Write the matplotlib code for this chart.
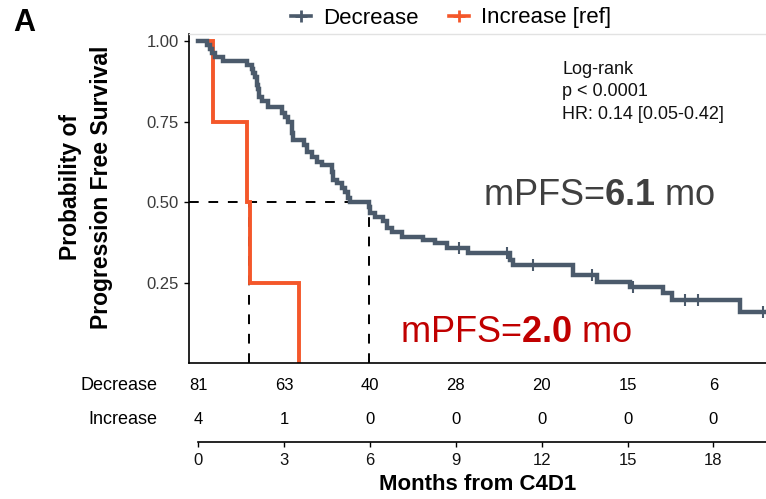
import matplotlib
matplotlib.use("Agg")
import matplotlib.pyplot as plt
from matplotlib.lines import Line2D
import numpy as np

plt.rcParams['font.family'] = ['Liberation Sans', 'DejaVu Sans']
plt.rcParams['mathtext.fontset'] = 'custom'
plt.rcParams['mathtext.rm'] = 'Liberation Sans'
plt.rcParams['mathtext.bf'] = 'Liberation Sans:bold'

# Kaplan-Meier steps (time in months, survival after the drop)
dec_t = [0, 0.29, 0.40, 0.47, 0.58, 0.86, 1.70, 1.87, 1.91, 1.98, 2.05, 2.08, 2.12,
         2.22, 2.43, 2.92, 3.02, 3.13, 3.27, 3.30, 3.69, 3.79, 3.97, 4.14, 4.32, 4.67,
         4.70, 4.84, 5.02, 5.12, 5.23, 5.30, 5.96, 6.00, 6.17, 6.45, 6.59, 6.77, 7.12,
         7.85, 8.27, 8.69, 9.42, 10.89, 11.00, 13.09, 13.93, 15.09, 16.24, 16.56,
         18.93, 19.80]
dec_s = [1.0, 0.988, 0.975, 0.963, 0.951, 0.938, 0.926, 0.914, 0.901, 0.889, 0.864,
         0.852, 0.827, 0.815, 0.796, 0.778, 0.765, 0.750, 0.715, 0.694, 0.678, 0.656,
         0.640, 0.625, 0.617, 0.594, 0.569, 0.560, 0.544, 0.532, 0.513, 0.500, 0.485,
         0.467, 0.454, 0.440, 0.420, 0.407, 0.392, 0.383, 0.373, 0.358, 0.342, 0.320,
         0.305, 0.274, 0.252, 0.237, 0.218, 0.196, 0.159, 0.159]
dec_cens = [9.10, 10.80, 11.70, 13.76, 15.20, 17.00, 17.45, 19.75]

inc_t = [0, 0.50, 1.69, 1.80, 3.50]
inc_s = [1.0, 0.75, 0.50, 0.25, 0.0]

dec_median = 5.96
inc_median = 1.75

risk_times = [0, 3, 6, 9, 12, 15, 18]
dec_risk = [81, 63, 40, 28, 20, 15, 6]
inc_risk = [4, 1, 0, 0, 0, 0, 0]

c_dec = '#4B5A6B'
c_inc = '#F4572A'

W, H = 766, 499
fig = plt.figure(figsize=(7.66, 4.99), dpi=100)

xl = (-0.332, 19.84)
ax = fig.add_axes([189/W, 1-363/H, 577/W, 329/H])
ax.set_xlim(*xl)
ax.set_ylim(0, 1.023)

# median guides
ax.plot([xl[0], dec_median], [0.5, 0.5], color='k', lw=1.4, ls=(0, (5, 5)), zorder=1)
ax.plot([inc_median, inc_median], [0, 0.5], color='k', lw=1.4, ls=(0, (5, 5)), zorder=1)
ax.plot([dec_median, dec_median], [0, 0.5], color='k', lw=1.4, ls=(0, (5, 5)), zorder=1)

ax.step(inc_t, inc_s, where='post', color=c_inc, lw=2.8, zorder=2, solid_joinstyle='miter')
ax.step(dec_t, dec_s, where='post', color=c_dec, lw=3.2, zorder=3, solid_joinstyle='miter')
idx = np.searchsorted(dec_t, dec_cens, side='right') - 1
ax.plot(dec_cens, np.array(dec_s)[idx], ls='none', marker='|', ms=9, mew=1.5,
        color=c_dec, zorder=4)

ax.set_xticks([])
ax.set_yticks([0.25, 0.5, 0.75, 1.0])
ax.set_yticklabels(['0.25', '0.50', '0.75', '1.00'])
ax.tick_params(axis='y', length=3.6, width=1, pad=3.6, labelsize=12, labelcolor='#3a3a3a')
ax.spines['right'].set_visible(False)
ax.spines['top'].set_color('#e2e2e2')
ax.spines['top'].set_linewidth(1)
ax.spines['left'].set_linewidth(1.2)
ax.spines['bottom'].set_linewidth(1.2)

ax.text(562/W, 1-92/H, 'Log-rank\np < 0.0001\nHR: 0.14 [0.05-0.42]', transform=fig.transFigure,
        ha='left', va='center', fontsize=13, linespacing=1.45, color='#111111')
ax.text(483/W, 1-195/H, r'mPFS=$\mathbf{6.1}$ mo', transform=fig.transFigure,
        ha='left', va='center', fontsize=26, color='#404040')
ax.text(400/W, 1-333/H, r'mPFS=$\mathbf{2.0}$ mo', transform=fig.transFigure,
        ha='left', va='center', fontsize=26, color='#C00000')

# risk table + shared time axis
tax = fig.add_axes([189/W, 1-442/H, 577/W, 70/H])
tax.set_xlim(*xl)
tax.set_ylim(0, 1)
for s in ['left', 'top', 'right']:
    tax.spines[s].set_visible(False)
tax.spines['bottom'].set_bounds(0, xl[1])
tax.spines['bottom'].set_linewidth(1.2)
tax.set_yticks([])
tax.set_xticks(risk_times)
tax.tick_params(axis='x', length=3.6, width=1, pad=4.5, labelsize=12, labelcolor='#111111')
tax.set_xlabel('Months from C4D1', fontsize=16, fontweight='bold', labelpad=4)

row_dec, row_inc = 0.80, 0.32
tax.text(-1.45, row_dec, 'Decrease', ha='right', va='center', fontsize=13)
tax.text(-1.45, row_inc, 'Increase', ha='right', va='center', fontsize=13)
for t, d, i in zip(risk_times, dec_risk, inc_risk):
    tax.text(t, row_dec, str(d), ha='center', va='center', fontsize=12)
    tax.text(t, row_inc, str(i), ha='center', va='center', fontsize=12)

fig.text(86/W, 1-187/H, 'Probability of\nProgression Free Survival', rotation=90,
         ha='center', va='center', fontsize=16.5, fontweight='bold', linespacing=1.4)
fig.text(13/W, 1-8/H, 'A', ha='left', va='top', fontsize=22, fontweight='bold')

handles = [Line2D([0], [0], color=c_dec, lw=2.6, marker='+', ms=8, mew=2),
           Line2D([0], [0], color=c_inc, lw=2.6, marker='+', ms=8, mew=2)]
fig.legend(handles, ['Decrease', 'Increase [ref]'], loc='center', bbox_to_anchor=(451/W, 1-18/H),
           ncol=2, frameon=False, fontsize=16, handlelength=0.9, handletextpad=0.55,
           columnspacing=1.35)

fig.savefig('out.png', dpi=100)
